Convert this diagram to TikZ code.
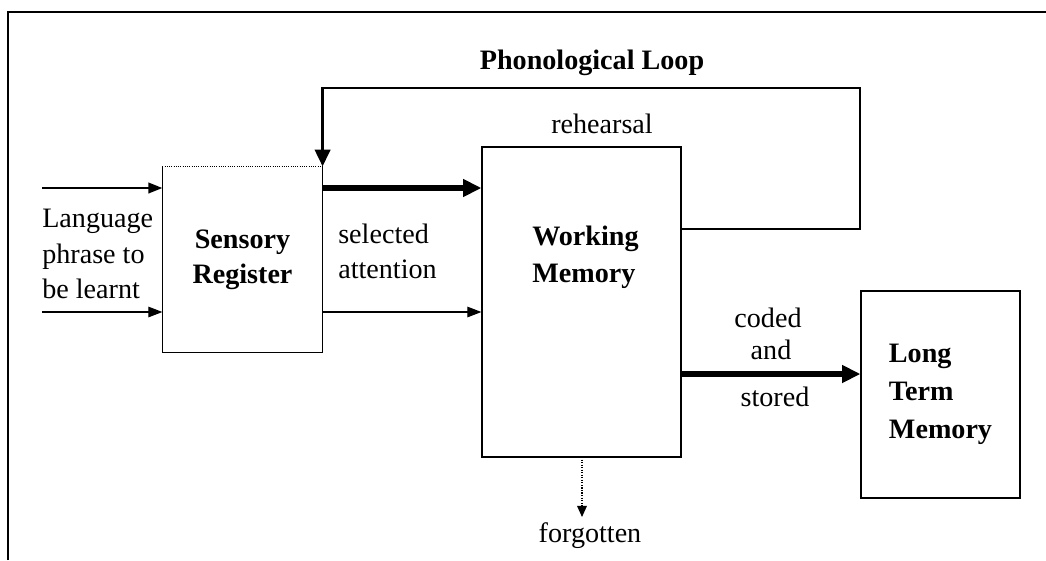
\documentclass[tikz,border=0pt]{standalone}
\usepackage{fontspec}
\setmainfont{Liberation Serif}
\usepackage{tikz}
\usetikzlibrary{arrows.meta}

\tikzset{
  memorybox/.style={draw, line width=0.8pt, inner sep=0pt},
  thinarrow/.style={line width=0.8pt, -{Triangle[length=10pt,width=7.5pt]}},
  thickarrow/.style={line width=3.8pt, -{Triangle[length=13pt,width=12pt]}},
  looparrow/.style={line width=2pt, -{Triangle[length=12pt,width=11pt]}}
}

\begin{document}
\begin{tikzpicture}[x=0.025cm, y=-0.025cm, font=\fontsize{20}{25}\selectfont]
  \useasboundingbox (0,0) rectangle (1046,560);
  % outer frame
  \draw[line width=1.5pt]
    (8,560) -- (8,12) -- (1046,12);

  % boxes
  \node[memorybox, draw=none, minimum width=3.975cm, minimum height=4.625cm,
        align=center, font=\fontsize{20}{25}\selectfont\bfseries]
    (sensory) at (242.5,259.5) {Sensory\\Register};
  \draw[line width=0.8pt]
    (sensory.north west) -- (sensory.south west)
    -- (sensory.south east) -- (sensory.north east);
  \draw[densely dotted, line width=0.6pt]
    (sensory.north west) -- (sensory.north east);
  \node[memorybox, minimum width=4.975cm, minimum height=7.75cm]
    (working) at (581.5,302) {};
  \node[memorybox, minimum width=3.975cm, minimum height=5.175cm,
        align=left, font=\fontsize{20}{27}\selectfont\bfseries]
    (longterm) at (940.5,394.5) {Long\\Term\\Memory};

  % texts
  \node[anchor=west, align=left, inner sep=0pt]
    (phrase) at (42,254) {Language\\phrase to\\be learnt};
  \node[anchor=west, align=left, inner sep=0pt]
    (selected) at (338,251) {selected\\attention};
  \node[anchor=west, align=left, inner sep=0pt, font=\fontsize{20}{26}\selectfont\bfseries]
    (wmtext) at (532,257) {Working\\Memory};
  \node[font=\fontsize{20}{25}\selectfont\bfseries]
    (looptitle) at (592,63) {Phonological Loop};
  \node (rehearsal) at (602,124) {rehearsal};
  \node (coded) at (768,318) {coded};
  \node (and) at (771,350) {and};
  \node (stored) at (775,397) {stored};
  \node (forgotten) at (590,536) {forgotten};

  % inputs
  \coordinate (upper) at (42,188);
  \coordinate (lower) at (42,312);
  \draw[line width=1.6pt, -{Triangle[length=10pt,width=7.5pt]}]
    (upper) -- (upper -| sensory.west);
  \draw[thinarrow]
    (lower) -- (lower -| sensory.west);

  % register to working memory
  \draw[thickarrow]
    (sensory.east |- upper) -- (upper -| working.west);
  \draw[thinarrow]
    (sensory.east |- lower) -- (lower -| working.west);

  % phonological loop
  \coordinate (loopout) at (860,229);
  \coordinate (looptop) at (860,88);
  \draw[looparrow]
    (working.east |- loopout)
    -- (loopout)
    -- (looptop)
    -- (looptop -| sensory.east)
    -- (sensory.north east);

  % to long term memory
  \coordinate (store) at (700,374);
  \draw[thickarrow]
    (working.east |- store) -- (longterm.west |- store);

  % forgotten
  \draw[densely dotted, line width=0.8pt, -{Triangle[length=8pt,width=7pt]}]
    (582,457) -- (582,517);
\end{tikzpicture}
\end{document}
